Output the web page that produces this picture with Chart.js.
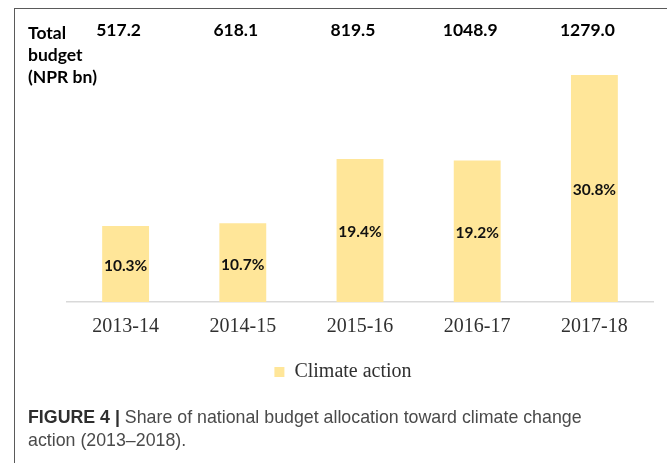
<!DOCTYPE html>
<html>
<head>
<meta charset="utf-8">
<script src="https://cdn.jsdelivr.net/npm/chart.js@4.4.1/dist/chart.umd.min.js"></script>
<style>
  html, body { margin: 0; padding: 0; background: #ffffff; }
  #wrap { position: relative; width: 667px; height: 463px; overflow: hidden; background: #fff; }
  #frame { position: absolute; left: 14px; top: 8px; width: 700px; height: 500px;
           border-left: 1.5px solid #5a5a5a; border-top: 1.5px solid #5a5a5a; }
  #c { position: absolute; left: 0; top: 0; }
  #caption { position: absolute; left: 28px; top: 406px; width: 630px;
             font-family: "Liberation Sans", Arial, sans-serif; font-size: 17.8px; line-height: 23px;
             color: #4a4a4a; white-space: nowrap; }
  #caption b { color: #2e2e2e; }
</style>
</head>
<body>
<div id="wrap">
  <div id="frame"></div>
  <canvas id="c" width="667" height="463"></canvas>
  <div id="caption"><b>FIGURE 4 |</b> Share of national budget allocation toward climate change<br>action (2013–2018).</div>
</div>
<script>
// ---- data ----
const categories = ['2013-14', '2014-15', '2015-16', '2016-17', '2017-18'];
const climateSharePct = [10.3, 10.7, 19.4, 19.2, 30.8];
const totalBudgetNPRbn = [517.2, 618.1, 819.5, 1048.9, 1279.0];
const headerLines = ['Total', 'budget', '(NPR bn)'];
const seriesName = 'Climate action';

const BAR_COLOR = '#FFE699';

const headerPlugin = {
  id: 'headerPlugin',
  afterDraw(chart) {
    const ctx = chart.ctx;
    const xs = chart.scales.x;
    ctx.save();
    ctx.fillStyle = '#000';
    ctx.font = 'bold 17.5px Lato, "Open Sans", sans-serif';
    ctx.textAlign = 'left';
    ctx.textBaseline = 'alphabetic';
    headerLines.forEach((t, i) => ctx.fillText(t, 28, 39 + i * 22));
    ctx.textAlign = 'center';
    totalBudgetNPRbn.forEach((v, i) => {
      ctx.fillText(v.toFixed(1), xs.getPixelForValue(i) - 7, 36);
    });
    ctx.restore();
  }
};

const barLabelPlugin = {
  id: 'barLabelPlugin',
  afterDatasetsDraw(chart) {
    const ctx = chart.ctx;
    const meta = chart.getDatasetMeta(0);
    ctx.save();
    ctx.fillStyle = '#111';
    ctx.font = 'bold 15.5px Lato, "Open Sans", sans-serif';
    ctx.textAlign = 'center';
    ctx.textBaseline = 'middle';
    meta.data.forEach((bar, i) => {
      const y = (bar.y + bar.base) / 2 + 2;
      ctx.fillText(climateSharePct[i].toFixed(1) + '%', bar.x, y);
    });
    ctx.restore();
  }
};

function build() {
  new Chart(document.getElementById('c'), {
    type: 'bar',
    data: {
      labels: categories,
      datasets: [{
        label: seriesName,
        data: climateSharePct,
        backgroundColor: BAR_COLOR,
        borderWidth: 0,
        barPercentage: 0.8,
        categoryPercentage: 0.5
      }]
    },
    options: {
      responsive: false,
      animation: false,
      layout: { padding: { left: 33, right: 14, top: 44, bottom: 71 } },
      scales: {
        x: {
          grid: { display: false, drawTicks: false },
          border: { display: true, color: '#d9d9d9', width: 1.5 },
          ticks: {
            color: '#303030',
            padding: 13,
            autoSkip: false,
            maxRotation: 0,
            font: { family: '"Liberation Serif", "Times New Roman", serif', size: 20 }
          },
          afterFit(scale) { scale.height = 50; }
        },
        y: {
          min: 0,
          max: 35,
          grid: { display: false, drawTicks: false },
          border: { display: false },
          ticks: { display: false },
          afterFit(scale) { scale.width = 34; }
        }
      },
      plugins: {
        legend: {
          display: true,
          position: 'bottom',
          labels: {
            boxWidth: 10,
            boxHeight: 10,
            padding: 10,
            color: '#303030',
            font: { family: '"Liberation Serif", "Times New Roman", serif', size: 20 }
          }
        },
        tooltip: { enabled: false }
      }
    },
    plugins: [headerPlugin, barLabelPlugin]
  });
}

Promise.all([
  document.fonts.load('bold 16px Lato'),
  document.fonts.load('20px "Liberation Serif"'),
  document.fonts.load('17px "Liberation Sans"'),
  document.fonts.load('bold 17px "Liberation Sans"')
]).then(build, build);
</script>
</body>
</html>
